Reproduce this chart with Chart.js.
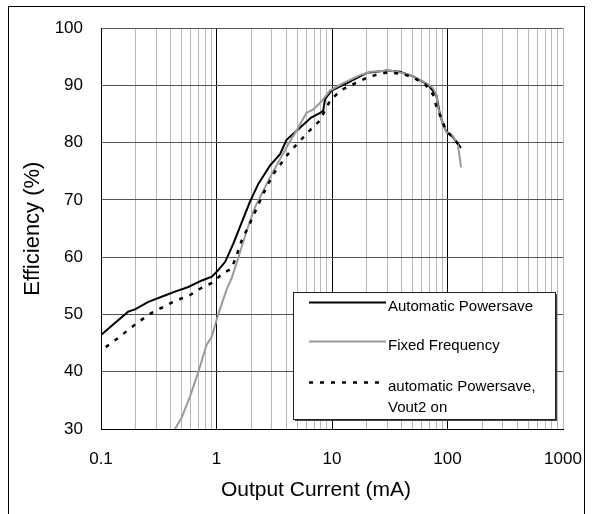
<!DOCTYPE html>
<html><head><meta charset="utf-8">
<script src="https://cdn.jsdelivr.net/npm/chart.js@4/dist/chart.umd.min.js"></script>
<style>html,body{margin:0;padding:0;background:#fff;overflow:hidden}canvas{display:block}</style>
</head><body>
<canvas id="c" width="594" height="514"></canvas>
<script>
// ---- data ----
const xTickLabels = ['0.1', '1', '10', '100', '1000'];
const yMin = 30, yMax = 100, yStep = 10;
const xAxisTitle = 'Output Current (mA)';
const yAxisTitle = 'Efficiency (%)';
const seriesNames = ['Automatic Powersave', 'Fixed Frequency', 'automatic Powersave,', 'Vout2 on'];

const autoX = [0.1, 0.132, 0.172, 0.197, 0.257, 0.335, 0.437, 0.57, 0.74, 0.91, 1.03, 1.19, 1.40, 1.59, 1.94, 2.30, 2.9, 3.55, 4.04, 5.28, 6.6, 7.9, 8.4, 8.7, 9.9, 13.5, 20, 29.7, 38.6, 50.5, 68, 80, 85, 91, 98, 111, 131];
const autoY = [46.4, 48.5, 50.5, 50.9, 52.2, 53.1, 54.0, 54.8, 55.9, 56.6, 57.7, 59.2, 62.4, 65.2, 69.6, 72.8, 76.0, 78.0, 80.5, 82.6, 84.4, 85.2, 85.6, 87.6, 89.1, 90.4, 92.2, 92.6, 92.4, 91.6, 90.1, 88.3, 85.5, 83.3, 81.9, 81.0, 79.1];

const fixedX = [0.437, 0.50, 0.59, 0.70, 0.82, 0.91, 1.03, 1.22, 1.35, 1.49, 1.83, 2.15, 2.54, 3.0, 3.55, 4.2, 5.0, 6.0, 6.9, 8.1, 9.6, 12.5, 17.5, 21.4, 32, 47, 57.5, 68, 75, 80, 83, 91.5, 97.6, 111, 123, 131];
const fixedY = [30.0, 32.0, 35.7, 40.1, 44.7, 46.1, 49.9, 54.3, 56.3, 58.9, 64.7, 68.7, 71.6, 74.5, 77.1, 79.8, 82.3, 85.2, 85.8, 87.2, 89.1, 90.4, 91.8, 92.4, 92.6, 91.9, 91.0, 90.2, 89.5, 88.4, 86.1, 83.2, 81.9, 81.2, 79.7, 75.7];

const vout2X = [0.11, 0.141, 0.172, 0.218, 0.275, 0.36, 0.45, 0.57, 0.72, 0.91, 1.14, 1.35, 1.49, 1.65, 2.0, 2.46, 2.8, 3.2, 4.3, 5.28, 6.3, 7.8, 9.6, 11.8, 14.8, 19.3, 24.4, 30.7, 41.5, 52.5, 63.8, 75, 80, 89, 97.6, 111, 131];
const vout2Y = [44.3, 45.9, 47.3, 48.9, 50.3, 51.5, 52.5, 53.2, 54.5, 55.5, 57.2, 58.0, 60.3, 62.9, 66.4, 70.5, 72.8, 74.9, 78.4, 80.3, 82.0, 83.8, 87.3, 89.1, 90.1, 91.2, 91.9, 92.3, 92.0, 91.2, 90.2, 88.4, 86.4, 84.1, 82.0, 81.0, 79.1];

// ---- helpers ----
const FONT = '"Liberation Sans", Arial, sans-serif';
const pts = (xs, ys) => xs.map((x, i) => ({x, y: ys[i]}));
const isDecade = v => v > 0 && Math.abs(Math.log10(v) - Math.round(Math.log10(v))) < 1e-6;

const PLOT = {left: 101, top: 26, bottom: 429, padRight: 31};

const framePlugin = {
  id: 'frame',
  beforeDraw(chart) {
    const c = chart.ctx;
    c.save();
    c.fillStyle = '#fff';
    c.fillRect(0, 0, chart.width, chart.height);
    c.strokeStyle = '#000';
    c.lineWidth = 1;
    c.strokeRect(8.5, 6.5, 576, 520);
    c.restore();
  },
  afterDraw(chart) {
    const c = chart.ctx;
    c.save();
    c.fillStyle = '#000';
    c.font = '21px ' + FONT;
    c.textAlign = 'center';
    c.textBaseline = 'middle';
    c.fillText(xAxisTitle, 316, 490);
    c.restore();
  }
};

const legendPlugin = {
  id: 'boxLegend',
  afterDatasetsDraw(chart) {
    const c = chart.ctx;
    const bx = 293, by = 292, bw = 262, bh = 127;
    c.save();
    c.fillStyle = '#444';
    c.fillRect(bx + 2, by + 2, bw, bh);
    c.fillStyle = '#fff';
    c.fillRect(bx, by, bw, bh);
    c.strokeStyle = '#222';
    c.lineWidth = 1;
    c.strokeRect(bx + 0.5, by + 0.5, bw, bh);
    const ds = chart.data.datasets;
    const rows = [
      {ds: ds[0], y: 302.5, text: [seriesNames[0]]},
      {ds: ds[1], y: 341.5, text: [seriesNames[1]]},
      {ds: ds[2], y: 382.5, text: [seriesNames[2], seriesNames[3]]}
    ];
    c.font = '15px ' + FONT;
    c.textBaseline = 'middle';
    c.textAlign = 'left';
    rows.forEach(r => {
      c.beginPath();
      c.strokeStyle = r.ds.borderColor;
      c.lineWidth = r.ds.borderWidth;
      c.setLineDash(r.ds.borderDash || []);
      c.moveTo(309, r.y);
      c.lineTo(386, r.y);
      c.stroke();
      c.setLineDash([]);
      c.fillStyle = '#000';
      r.text.forEach((t, i) => c.fillText(t, 388, r.y + 4 + i * 21));
    });
    c.restore();
  }
};

new Chart(document.getElementById('c'), {
  type: 'line',
  data: {
    datasets: [
      {label: seriesNames[0], data: pts(autoX, autoY), borderColor: '#000', borderWidth: 2, pointRadius: 0, tension: 0, order: 3},
      {label: seriesNames[1], data: pts(fixedX, fixedY), borderColor: '#9a9a9a', borderWidth: 2, pointRadius: 0, tension: 0, order: 2},
      {label: seriesNames[2] + ' ' + seriesNames[3], data: pts(vout2X, vout2Y), borderColor: '#000', borderWidth: 2.5, borderDash: [4, 7], pointRadius: 0, tension: 0, order: 1}
    ]
  },
  options: {
    responsive: false,
    animation: false,
    devicePixelRatio: 1,
    layout: {padding: {left: 0, top: PLOT.top, right: PLOT.padRight, bottom: 0}},
    plugins: {legend: {display: false}, tooltip: {enabled: false}},
    scales: {
      x: {
        type: 'logarithmic',
        min: 0.1, max: 1000,
        afterFit(s) { s.height = 514 - PLOT.bottom; },
        afterBuildTicks(s) {
          const t = [];
          [0.1, 1, 10, 100].forEach(d => { for (let m = 1; m <= 9; m++) t.push({value: parseFloat((m * d).toPrecision(3))}); });
          t.push({value: 1000});
          s.ticks = t;
        },
        ticks: {
          autoSkip: false, maxRotation: 0, padding: 3,
          color: '#000', font: {family: FONT, size: 17},
          callback(v) { return isDecade(v) ? xTickLabels[Math.round(Math.log10(v)) + 1] : ''; }
        },
        grid: {
          drawTicks: true, tickLength: 17, tickColor: 'rgba(0,0,0,0)',
          color: ctx => (ctx.tick && isDecade(ctx.tick.value) && ctx.tick.value < 1000) ? '#000' : '#b8b8b8',
          lineWidth: 1
        },
        border: {color: '#000', width: 1},
        title: {display: false, text: xAxisTitle}
      },
      y: {
        min: yMin, max: yMax,
        afterFit(s) { s.width = PLOT.left; },
        ticks: {stepSize: yStep, padding: 18, color: '#000', font: {family: FONT, size: 17}},
        grid: {drawTicks: false, color: '#555', lineWidth: 1},
        border: {color: '#000', width: 1},
        title: {display: true, text: yAxisTitle, color: '#000', font: {family: FONT, size: 22, lineHeight: 1}, padding: {top: 22, bottom: 0}}
      }
    }
  },
  plugins: [framePlugin, legendPlugin]
});
</script>
</body></html>
